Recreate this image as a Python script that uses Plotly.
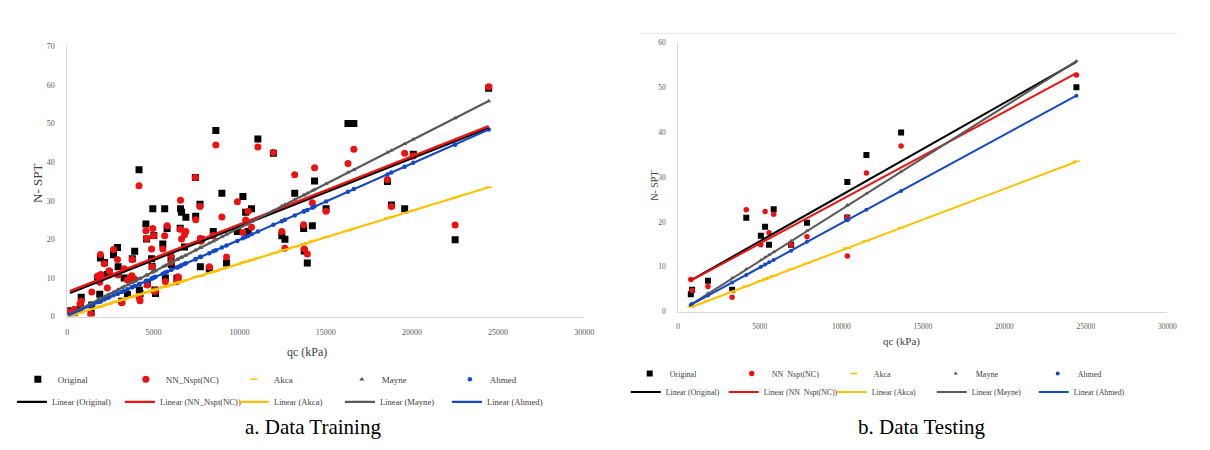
import plotly.graph_objects as go

# ---------------- Training data (a) ----------------
qc_train = [150, 400, 750, 805, 1380, 1420, 1760, 1880, 1920, 1950, 2150, 2320, 2430, 2680, 2910,
            2950, 3160, 3300, 3490, 3740, 3770, 3910, 4160, 4180, 4220, 4560, 4600, 4640, 4890, 4920,
            4960, 5020, 5080, 5120, 5540, 5650, 5690, 5790, 6020, 6040, 6360, 6420, 6550, 6570, 6630,
            6800, 6880, 7430, 7450, 7700, 7720, 7760, 8240, 8470, 8620, 8970, 9240, 9870, 10190, 10350,
            10500, 10690, 11060, 11960, 12450, 12630, 13200, 13716, 13750, 13930, 14220, 14350, 15020, 16290, 16630,
            18580, 18810, 19580, 20080, 22510, 24460]
orig_train = [1.5, 1.0, 2.9, 5.0, 1.0, 3.0, 10.0, 5.8, 15.2, 10.5, 14.0, 10.9, 11.5, 16.0, 17.9,
              12.9, 4.0, 10.0, 5.7, 10.0, 15.0, 16.9, 38.0, 6.9, 6.0, 24.0, 20.1, 8.5, 15.0, 13.0,
              27.9, 21.0, 6.9, 6.0, 18.8, 27.9, 10.0, 22.8, 15.0, 13.5, 9.9, 9.9, 22.9, 27.9, 27.0,
              18.0, 25.7, 36.0, 26.0, 29.1, 12.9, 20.0, 12.2, 22.0, 48.2, 31.9, 13.9, 22.0, 31.1, 27.0,
              22.0, 27.9, 46.0, 42.3, 20.9, 20.0, 31.9, 22.8, 17.0, 13.9, 23.5, 35.1, 27.9, 50.0, 50.0,
              35.0, 28.9, 27.9, 42.0, 19.9, 59.1]
nn_train = [1.2, 1.9, 3.3, 4.0, 0.6, 6.4, 10.5, 8.9, 16.1, 10.9, 13.7, 7.4, 11.9, 17.4, 14.8,
            10.8, 3.6, 12.4, 9.5, 10.6, 14.8, 9.7, 33.9, 4.8, 4.1, 22.2, 20.2, 8.2, 17.5, 12.9,
            22.8, 20.9, 6.5, 6.8, 17.5, 20.9, 9.1, 23.5, 15.8, 14.1, 9.1, 10.3, 22.6, 30.1, 20.1,
            21.2, 22.0, 36.0, 25.1, 28.5, 20.2, 19.5, 12.9, 21.0, 44.4, 25.8, 15.4, 29.7, 21.8, 25.0,
            27.3, 23.1, 43.9, 42.5, 22.0, 17.7, 36.7, 23.8, 17.5, 16.2, 29.5, 38.5, 27.3, 39.6, 43.3,
            35.5, 28.5, 42.3, 41.6, 23.7, 59.5]
akca_train = [0.2, 0.5, 1.0, 1.1, 1.9, 1.9, 2.4, 2.6, 2.6, 2.7, 2.9, 3.2, 3.3, 3.7, 4.0,
              4.0, 4.3, 4.5, 4.8, 5.1, 5.2, 5.4, 5.7, 5.7, 5.8, 6.2, 6.3, 6.4, 6.7, 6.7,
              6.8, 6.9, 7.0, 7.0, 7.6, 7.7, 7.8, 7.9, 8.2, 8.3, 8.7, 8.8, 9.0, 9.0, 9.1,
              9.3, 9.4, 10.2, 10.2, 10.5, 10.6, 10.6, 11.3, 11.6, 11.8, 12.3, 12.7, 13.5, 14.0, 14.2,
              14.4, 14.6, 15.2, 16.4, 17.1, 17.3, 18.1, 18.8, 18.8, 19.1, 19.5, 19.7, 20.6, 22.3, 22.8,
              25.5, 25.8, 26.8, 27.5, 30.8, 33.5]
mayne_train = [0.6, 1.2, 2.0, 2.1, 3.4, 3.5, 4.3, 4.6, 4.7, 4.7, 5.2, 5.6, 5.8, 6.4, 6.9,
               7.0, 7.5, 7.8, 8.2, 8.8, 8.9, 9.2, 9.7, 9.8, 9.9, 10.7, 10.7, 10.8, 11.4, 11.5,
               11.6, 11.7, 11.8, 11.9, 12.9, 13.1, 13.2, 13.4, 14.0, 14.0, 14.7, 14.9, 15.2, 15.2, 15.4,
               15.7, 15.9, 17.2, 17.2, 17.8, 17.8, 17.9, 19.0, 19.5, 19.9, 20.7, 21.3, 22.7, 23.4, 23.8,
               24.1, 24.6, 25.4, 27.4, 28.6, 29.0, 30.3, 31.4, 31.5, 31.9, 32.6, 32.9, 34.4, 37.3, 38.0,
               42.5, 43.0, 44.7, 45.9, 51.4, 55.8]
ahmed_train = [0.5, 1.0, 1.7, 1.8, 2.9, 3.0, 3.7, 3.9, 4.0, 4.0, 4.4, 4.8, 5.0, 5.5, 5.9,
               6.0, 6.4, 6.7, 7.1, 7.6, 7.6, 7.9, 8.4, 8.4, 8.5, 9.2, 9.3, 9.3, 9.8, 9.9,
               10.0, 10.1, 10.2, 10.3, 11.1, 11.3, 11.4, 11.6, 12.1, 12.1, 12.7, 12.8, 13.1, 13.1, 13.3,
               13.6, 13.8, 14.8, 14.9, 15.4, 15.4, 15.5, 16.4, 16.9, 17.2, 17.9, 18.4, 19.6, 20.3, 20.6,
               20.9, 21.3, 22.0, 23.8, 24.7, 25.1, 26.2, 27.2, 27.3, 27.6, 28.2, 28.5, 29.8, 32.3, 33.0,
               36.8, 37.3, 38.8, 39.8, 44.5, 48.4]
# linear trendline end points
trend_x_train = [150, 24460]
trend_orig_train = [6.1, 48.8]
trend_nn_train = [6.6, 49.3]
trend_akca_train = [0.2, 33.5]
trend_mayne_train = [0.6, 55.8]
trend_ahmed_train = [0.5, 48.4]

# ---------------- Testing data (b) ----------------
qc_test = [772, 851, 1823, 3305, 4174, 5067, 5328, 5571, 5856, 6926, 7898, 10371, 10371, 11543, 13670, 24423]
orig_test = [3.9, 4.9, 6.9, 4.9, 20.9, 16.9, 18.9, 14.9, 22.8, 14.9, 19.8, 28.9, 21.0, 34.9, 39.9, 50.0]
nn_test = [7.2, 4.7, 5.6, 3.2, 22.7, 14.9, 22.3, 17.6, 21.7, 14.9, 16.7, 12.4, 21.0, 30.9, 36.9, 52.7]
akca_test = [1.1, 1.2, 2.5, 4.5, 5.7, 6.9, 7.3, 7.6, 8.0, 9.5, 10.8, 14.2, 14.2, 15.8, 18.7, 33.5]
mayne_test = [1.7, 1.9, 4.1, 7.5, 9.5, 11.5, 12.1, 12.7, 13.3, 15.8, 18.0, 23.7, 23.7, 26.3, 31.2, 55.8]
ahmed_test = [1.5, 1.7, 3.6, 6.5, 8.2, 10.0, 10.5, 11.0, 11.5, 13.6, 15.6, 20.4, 20.4, 22.7, 26.9, 48.1]
trend_x_test = [772, 24423]
trend_orig_test = [7.0, 55.6]
trend_nn_test = [6.9, 53.1]
trend_akca_test = [1.0, 33.4]
trend_mayne_test = [1.6, 55.8]
trend_ahmed_test = [1.5, 48.1]

series_names = ["Original", "NN_Nspt(NC)", "Akca", "Mayne", "Ahmed"]
trend_names_train = ["Linear (Original)", "Linear (NN_Nspt(NC))", "Linear (Akca)", "Linear (Mayne)", "Linear (Ahmed)"]
trend_names_test = ["Linear (Original)", "Linear (NN  Nspt(NC))", "Linear (Akca)", "Linear (Mayne)", "Linear (Ahmed)"]
series_names_test = ["Original", "NN  Nspt(NC)", "Akca", "Mayne", "Ahmed"]
x_ticks = [0, 5000, 10000, 15000, 20000, 25000, 30000]
captions = ["a. Data Training", "b. Data Testing"]

BLACK = "#000000"
RED = "#F01010"
GOLD = "#FFC000"
GRAY = "#595959"
BLUE = "#1348C8"
AXC = "#D9D9D9"
TXT = "#404040"
SERIF = "Liberation Serif"

W, H = 1210, 450
fig = go.Figure()

# legend entry widths (px) for the trendline rows
lw_row_train = [63, 69, 61, 62, 63]
lw_row_test = [53, 63, 55, 57, 57]


def add_panel(xa, ya, qc, orig, nn, akca, mayne, ahmed, tx, t_or, t_nn, t_ak, t_ma, t_ah,
              names, tnames, leg1, leg2, big, lwidths):
    sq = 7 if big else 6
    ci = 7 if big else 5.5
    sm = 4.5 if big else 4
    common = dict(xaxis=xa, yaxis=ya, hoverinfo="skip")
    fig.add_trace(go.Scatter(x=qc, y=orig, mode="markers", name=names[0], legend=leg1,
                             marker=dict(symbol="square", size=sq, color=BLACK), **common))
    fig.add_trace(go.Scatter(x=qc, y=nn, mode="markers", name=names[1], legend=leg1,
                             marker=dict(symbol="circle", size=ci, color=RED), **common))
    fig.add_trace(go.Scatter(x=qc, y=akca, mode="markers", name=names[2], legend=leg1,
                             marker=dict(symbol="line-ew", size=5, color=GOLD,
                                         line=dict(color=GOLD, width=1.5)), **common))
    fig.add_trace(go.Scatter(x=qc, y=mayne, mode="markers", name=names[3], legend=leg1,
                             marker=dict(symbol="triangle-up", size=sm, color=GRAY), **common))
    fig.add_trace(go.Scatter(x=qc, y=ahmed, mode="markers", name=names[4], legend=leg1,
                             marker=dict(symbol="circle", size=sm, color=BLUE), **common))
    lw = 2.2 if big else 2.0
    for i, (yy, col, nm) in enumerate([(t_or, BLACK, tnames[0]), (t_nn, RED, tnames[1]),
                                       (t_ak, GOLD, tnames[2]), (t_ma, GRAY, tnames[3]),
                                       (t_ah, BLUE, tnames[4])]):
        fig.add_trace(go.Scatter(x=tx, y=yy, mode="lines", name=nm, legend=leg2,
                                 legendwidth=lwidths[i],
                                 line=dict(color=col, width=lw), **common))


add_panel("x", "y", qc_train, orig_train, nn_train, akca_train, mayne_train, ahmed_train,
          trend_x_train, trend_orig_train, trend_nn_train, trend_akca_train, trend_mayne_train,
          trend_ahmed_train, series_names, trend_names_train, "legend", "legend2", True, lw_row_train)
add_panel("x2", "y2", qc_test, orig_test, nn_test, akca_test, mayne_test, ahmed_test,
          trend_x_test, trend_orig_test, trend_nn_test, trend_akca_test, trend_mayne_test,
          trend_ahmed_test, series_names_test, trend_names_test, "legend3", "legend4", False, lw_row_test)


def px_x(p):
    return p / W


def px_y(p):
    return (H - p) / H


axis_common = dict(showgrid=False, zeroline=False, showline=True, linecolor=AXC, linewidth=1,
                   ticks="", tickformat="d", mirror=False, fixedrange=True)

fig.update_layout(
    width=W, height=H,
    margin=dict(l=0, r=0, t=0, b=0),
    paper_bgcolor="white", plot_bgcolor="white",
    showlegend=True,
    xaxis=dict(domain=[px_x(66), px_x(588)], range=[0, 30000], tickvals=x_ticks, anchor="y",
               tickfont=dict(family=SERIF, size=8, color=GRAY), ticklabelstandoff=8, **axis_common),
    yaxis=dict(domain=[px_y(319), px_y(43)], range=[0, 70], dtick=10, anchor="x",
               tickfont=dict(family=SERIF, size=8, color=GRAY), ticklabelstandoff=10, **axis_common),
    xaxis2=dict(domain=[px_x(683), px_x(1177)], range=[0, 30000], tickvals=x_ticks, anchor="y2",
                tickfont=dict(family=SERIF, size=7.5, color=GRAY), ticklabelstandoff=7, **axis_common),
    yaxis2=dict(domain=[px_y(314), px_y(39)], range=[0, 60], dtick=10, anchor="x2",
                tickfont=dict(family=SERIF, size=7.5, color=GRAY), ticklabelstandoff=10, **axis_common),
)

leg_common = dict(orientation="h", xanchor="left", yanchor="middle", bgcolor="rgba(0,0,0,0)",
                  entrywidthmode="pixels", itemwidth=30, itemclick=False, itemdoubleclick=False,
                  borderwidth=0, tracegroupgap=0)
fig.update_layout(
    legend=dict(x=px_x(16), y=px_y(383), entrywidth=63,
                font=dict(family=SERIF, size=9, color=TXT), **leg_common),
    legend2=dict(x=px_x(10), y=px_y(406), entrywidth=63,
                 font=dict(family=SERIF, size=8.6, color=TXT), **leg_common),
    legend3=dict(x=px_x(634), y=px_y(377), entrywidth=57,
                 font=dict(family=SERIF, size=8, color=TXT), **leg_common),
    legend4=dict(x=px_x(630), y=px_y(396), entrywidth=57,
                 font=dict(family=SERIF, size=7.8, color=TXT), **leg_common),
)

ann = [
    dict(text="N- SPT", x=px_x(36), y=px_y(183), textangle=-90, font=dict(family=SERIF, size=13, color=TXT)),
    dict(text="qc (kPa)", x=px_x(308), y=px_y(355), font=dict(family=SERIF, size=12, color=TXT)),
    dict(text="N- SPT", x=px_x(659), y=px_y(185), textangle=-90, font=dict(family=SERIF, size=10, color=TXT)),
    dict(text="qc (kPa)", x=px_x(909), y=px_y(344), font=dict(family=SERIF, size=11, color=TXT)),
    dict(text=captions[0], x=px_x(314), y=px_y(432), font=dict(family=SERIF, size=21, color="#000000")),
    dict(text=captions[1], x=px_x(929), y=px_y(432), font=dict(family=SERIF, size=21, color="#000000")),
]
for a in ann:
    a.update(xref="paper", yref="paper", showarrow=False, xanchor="center", yanchor="middle")
fig.update_layout(annotations=ann)

# chart-area top border of panel b
fig.add_shape(type="line", xref="paper", yref="paper", x0=px_x(645), x1=px_x(1187),
              y0=px_y(30), y1=px_y(30), line=dict(color="#E6E6E6", width=1))

fig.write_html("out.html")
